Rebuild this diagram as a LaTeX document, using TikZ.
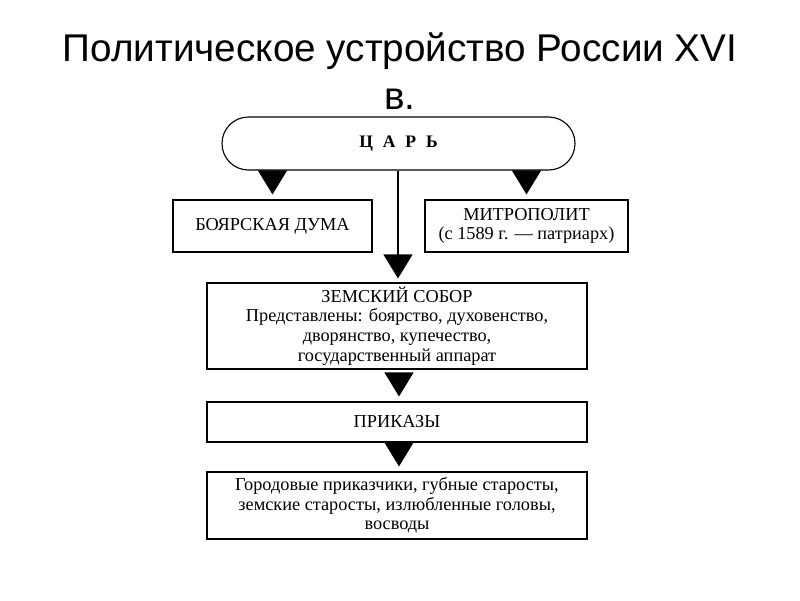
\documentclass[tikz,border=0pt]{standalone}
\usepackage{fontspec}
\setmainfont{Liberation Serif}
\newfontfamily\titlefont{Liberation Sans}
\usetikzlibrary{arrows.meta}
\begin{document}
\begin{tikzpicture}
[x=0.025cm,y=-0.025cm,
  boxdecorate/.style={shape=rectangle,draw,line width=0.8pt,inner sep=0pt,
    align=center,font=\fontsize{13}{14}\selectfont},
  arrowdecorate/.style={-{Triangle[width=0.725cm,length=0.6cm]},line width=0.8pt}]
\useasboundingbox (0,0) rectangle (800,600);
%% title
\node (title) at (400,110) [anchor=south,align=center,inner sep=0pt,
  font=\titlefont\fontsize{27.5}{34}\selectfont]
  {Политическое устройство России XVI\\в.};
%% boxes
\node (tsar) at (398.5,143.5) [boxdecorate,rounded corners=0.66cm,
  minimum width=353*0.025cm,minimum height=53*0.025cm,
  font=\bfseries\fontsize{12.5}{13}\selectfont]
  {Ц\hspace{7pt}А\hspace{7pt}Р\hspace{7pt}Ь};
\node (boyar) at (272.5,226) [boxdecorate,minimum width=199*0.025cm,
  minimum height=52*0.025cm] {БОЯРСКАЯ ДУМА};
\node (metro) at (526.5,226) [boxdecorate,minimum width=203*0.025cm,
  minimum height=52*0.025cm] {МИТРОПОЛИТ\\(с 1589 г. — патриарх)};
\node (sobor) at (397,326) [boxdecorate,minimum width=380*0.025cm,
  minimum height=86*0.025cm]
  {ЗЕМСКИЙ СОБОР\\Представлены: боярство, духовенство,\\
   дворянство, купечество,\\государственный аппарат};
\node (prikazy) at (397,422) [boxdecorate,minimum width=380*0.025cm,
  minimum height=40*0.025cm] {ПРИКАЗЫ};
\node (local) at (397,505.5) [boxdecorate,minimum width=380*0.025cm,
  minimum height=67*0.025cm]
  {Городовые приказчики, губные старосты,\\
   земские старосты, излюбленные головы,\\восводы};
%% arrows
\foreach \endnode in {boyar, metro}
  \draw[arrowdecorate,shorten >=5*0.025cm] (tsar.south -| \endnode) -- (\endnode.north);
\draw[arrowdecorate,shorten >=4*0.025cm] (tsar.south -| 398,0) -- (sobor.north -| 398,0);
\foreach \startnode/\endnode in {sobor/prikazy, prikazy/local}
  \draw[arrowdecorate,shorten <=5*0.025cm,shorten >=5*0.025cm]
    (\startnode.south -| 399,0) -- (\endnode.north -| 399,0);
\end{tikzpicture}
\end{document}
